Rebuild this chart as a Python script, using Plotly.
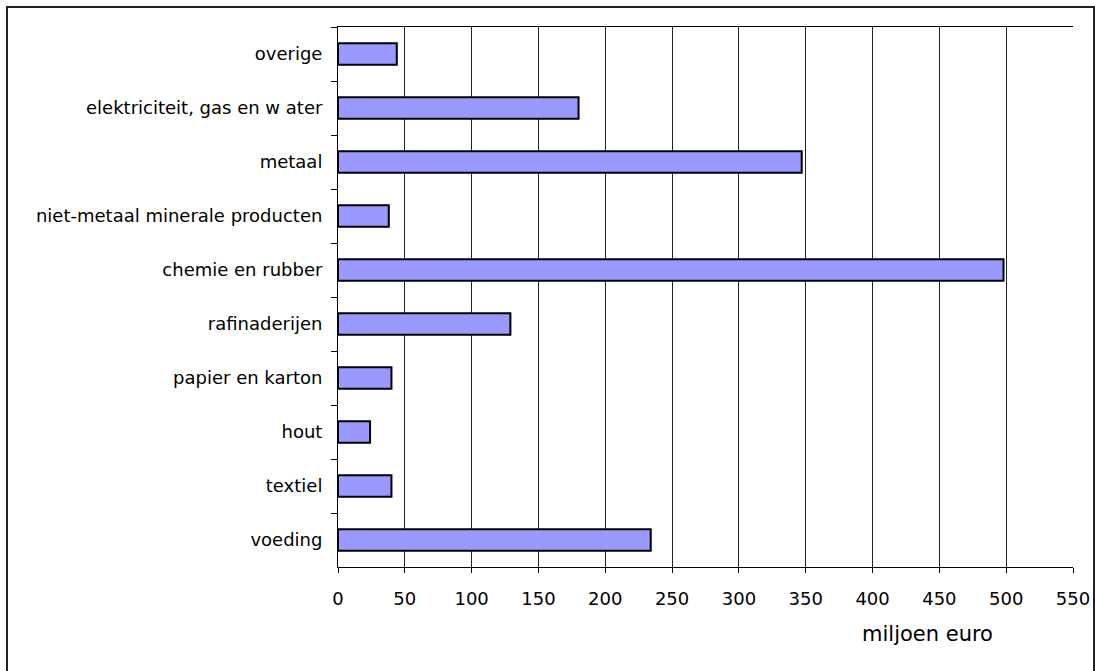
import plotly.graph_objects as go

categories = ["overige", "elektriciteit, gas en w ater", "metaal",
              "niet-metaal minerale producten", "chemie en rubber",
              "rafinaderijen", "papier en karton", "hout", "textiel", "voeding"]
values = [44, 180, 347, 38, 498, 129, 40, 24, 40, 234]
x_ticks = [0, 50, 100, 150, 200, 250, 300, 350, 400, 450, 500, 550]
x_title = "miljoen euro"

W, H = 1095, 671
L, R, T, B = 338, 1073, 27, 567

fig = go.Figure(go.Bar(
    x=values, y=categories, orientation="h",
    marker=dict(color="#9999FF", line=dict(color="#000000", width=2)),
    width=0.4,
))

FONT = "DejaVu Sans"

fig.update_layout(
    template="none",
    width=W, height=H, autosize=False,
    margin=dict(l=L, r=W - R, t=T, b=H - B, pad=0),
    paper_bgcolor="white", plot_bgcolor="white",
    showlegend=False,
    font=dict(family=FONT, size=18, color="#000000"),
    xaxis=dict(
        range=[0, 550], tickvals=x_ticks, ticktext=[str(v) for v in x_ticks],
        showgrid=True, gridcolor="#222222", gridwidth=1,
        showline=True, linecolor="#000000", linewidth=1, mirror=True,
        ticks="outside", ticklen=5, tickcolor="#000000", tickwidth=1,
        zeroline=False, tickfont=dict(family=FONT, size=18),
        ticklabelstandoff=10, automargin=False,
        fixedrange=True,
    ),
    yaxis=dict(
        type="category", autorange="reversed",
        tickson="boundaries", ticks="outside", ticklen=6,
        tickcolor="#000000", tickwidth=1,
        showline=True, linecolor="#000000", linewidth=1,
        showgrid=False, zeroline=False,
        tickfont=dict(family=FONT, size=18),
        ticklabelstandoff=11, automargin=False,
    ),
)

pw, ph = R - L, B - T
def px(x):
    return (x - L) / pw
def py(y):
    return (B - y) / ph

# outer chart-area border (cropped at the bottom)
fig.add_shape(type="path", xref="paper", yref="paper",
              path=f"M {px(7)} {py(680)} L {px(7)} {py(7)} L {px(1094)} {py(7)} L {px(1094)} {py(680)}",
              line=dict(color="#222222", width=2))

fig.add_annotation(text=x_title, xref="paper", yref="paper",
                   x=px(927), y=py(634), xanchor="center", yanchor="middle",
                   showarrow=False, font=dict(family=FONT, size=21, color="#000000"))

fig.write_html("out.html")
